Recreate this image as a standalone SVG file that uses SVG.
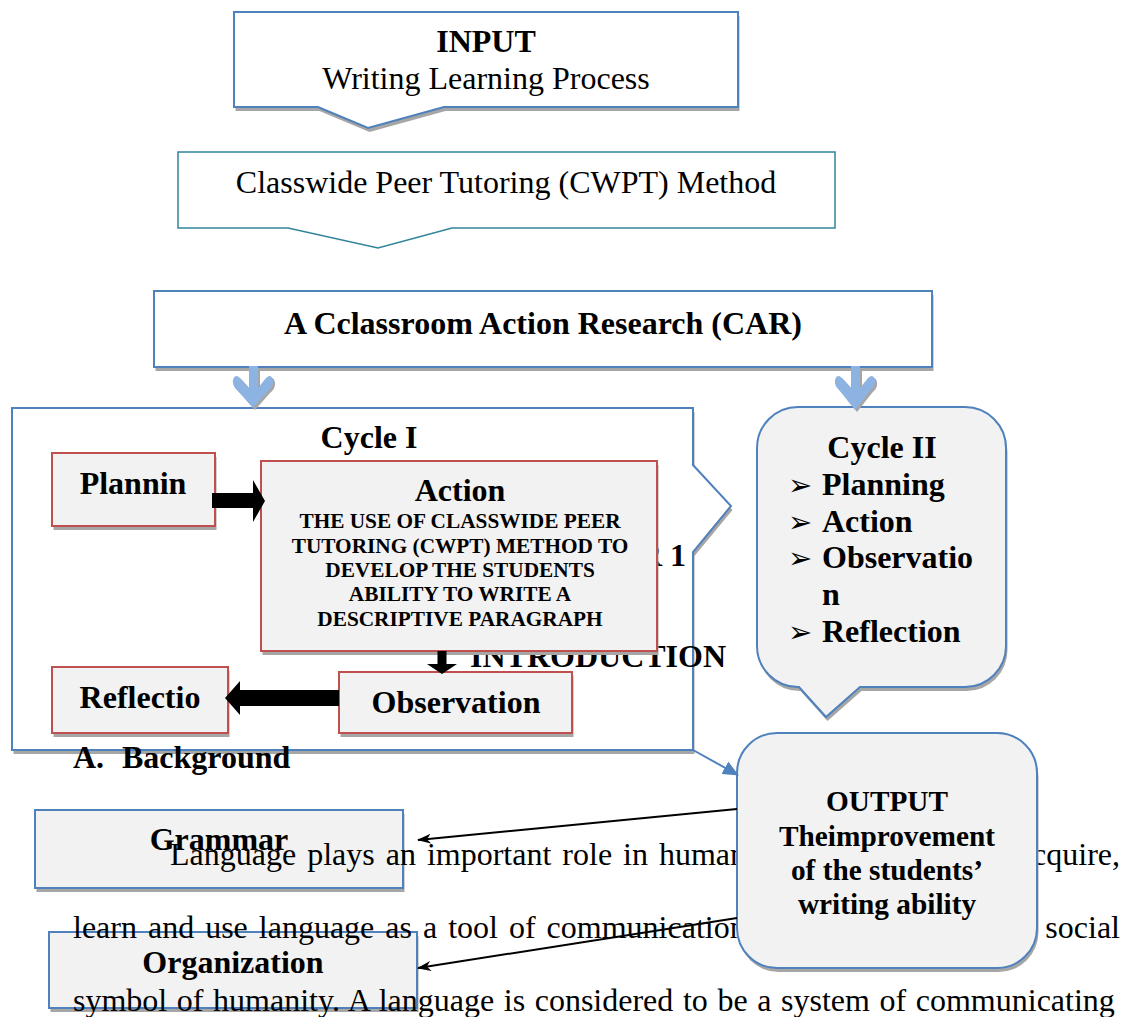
<svg xmlns="http://www.w3.org/2000/svg" width="1133" height="1017" viewBox="0 0 1133 1017">
<defs>
<style>
.t{font-family:"Liberation Serif","Times New Roman",serif;fill:#000}
.b{font-weight:bold}
.c{text-anchor:middle}
.bul{font-family:"DejaVu Sans",sans-serif;font-size:29px;fill:#000}
.blue{fill:#fff;stroke:#4F81BD;stroke-width:2}
.blueg{fill:#F2F2F2;stroke:#4F81BD;stroke-width:2}
.red{fill:#F2F2F2;stroke:#C0504D;stroke-width:2}
.teal{fill:#fff;stroke:#31849B;stroke-width:1.5}
.sh{fill:#A6A6A6}
.blk{fill:#000}
.barrow{fill:#8DB3E2}
.pline{stroke:#000;stroke-width:2;fill:none}
.bline{stroke:#4F81BD;stroke-width:2;fill:none}
</style>
<marker id="ah" viewBox="0 0 14 10" refX="13" refY="5" markerWidth="14" markerHeight="10" markerUnits="userSpaceOnUse" orient="auto">
<path d="M0,0 L14,5 L0,10 L4,5 Z" fill="#000"/>
</marker>
<marker id="ahb" viewBox="0 0 16 14" refX="15" refY="7" markerWidth="16" markerHeight="14" markerUnits="userSpaceOnUse" orient="auto">
<path d="M0,0 L16,7 L0,14 Z" fill="#4F81BD"/>
</marker>
</defs>

<g id="input">
<path class="sh" transform="translate(1.5,4)" d="M234,12 H738 V107 H444 L368,128 L318,107 H234 Z"/>
<path class="blue" d="M234,12 H738 V107 H444 L368,128 L318,107 H234 Z"/>
<text class="t b c" x="486" y="52" font-size="32">INPUT</text>
<text class="t c" x="486" y="89" font-size="32">Writing Learning Process</text>
</g>

<g id="cwpt">
<path class="teal" d="M178,152 H835 V228 H452 L378,248 L288,228 H178 Z"/>
<text class="t c" x="506" y="193" font-size="32">Classwide Peer Tutoring (CWPT) Method</text>
</g>

<g id="car">
<rect class="sh" x="155.5" y="295" width="778" height="76"/>
<rect class="blue" x="154" y="291" width="778" height="76"/>
<text class="t b c" x="543" y="334" font-size="32">A Cclassroom Action Research (CAR)</text>
</g>

<g id="cycle1">
<path class="sh" transform="translate(1.5,4)" d="M12,408 H693 V465 L731,506 L693,552 V750 H12 Z"/>
<path class="blue" d="M12,408 H693 V465 L731,506 L693,552 V750 H12 Z"/>
<text class="t b c" x="369" y="448" font-size="32">Cycle I</text>
</g>

<g id="page-text-behind">
<text class="t b" x="686" y="566" font-size="32" text-anchor="end">R 1</text>
<text class="t b" x="470" y="667" font-size="32">INTRODUCTION</text>
<text class="t b" x="73" y="768" font-size="32">A.</text>
<text class="t b" x="122" y="768" font-size="32">Background</text>
</g>

<g id="planning">
<rect class="sh" x="53.5" y="457" width="163" height="73"/>
<rect class="red" x="52" y="453" width="163" height="73"/>
<text class="t b c" x="133" y="494" font-size="32">Plannin</text>
</g>

<g id="action">
<rect class="sh" x="262.5" y="465" width="396" height="190"/>
<rect class="red" x="261" y="461" width="396" height="190"/>
<text class="t b c" x="460" y="501" font-size="32">Action</text>
<text class="t b c" x="460" y="528" font-size="21.3">THE USE OF CLASSWIDE PEER</text>
<text class="t b c" x="460" y="553" font-size="21.3">TUTORING (CWPT) METHOD TO</text>
<text class="t b c" x="460" y="577" font-size="21.3">DEVELOP THE STUDENTS</text>
<text class="t b c" x="460" y="601" font-size="21.3">ABILITY TO WRITE A</text>
<text class="t b c" x="460" y="626" font-size="21.3">DESCRIPTIVE PARAGRAPH</text>
</g>

<g id="observation">
<rect class="sh" x="340.5" y="676" width="233" height="61"/>
<rect class="red" x="339" y="672" width="233" height="61"/>
<text class="t b c" x="456" y="713" font-size="32">Observation</text>
</g>

<g id="reflection">
<rect class="sh" x="53.5" y="671" width="176" height="66"/>
<rect class="red" x="52" y="667" width="176" height="66"/>
<text class="t b c" x="140" y="708" font-size="32">Reflectio</text>
</g>

<g id="cycle2">
<path class="sh" transform="translate(1.5,4)" d="M798,407 H965 A41,41 0 0 1 1006,448 V646 A41,41 0 0 1 965,687 H860 L826,717 L799,687 H798 A41,41 0 0 1 757,646 V448 A41,41 0 0 1 798,407 Z"/>
<path class="blueg" d="M798,407 H965 A41,41 0 0 1 1006,448 V646 A41,41 0 0 1 965,687 H860 L826,717 L799,687 H798 A41,41 0 0 1 757,646 V448 A41,41 0 0 1 798,407 Z"/>
<text class="t b c" x="882" y="458" font-size="32">Cycle II</text>
<text class="bul" x="788" y="495">➢</text>
<text class="t b" x="822" y="495" font-size="32">Planning</text>
<text class="bul" x="788" y="532">➢</text>
<text class="t b" x="822" y="532" font-size="32">Action</text>
<text class="bul" x="788" y="568">➢</text>
<text class="t b" x="822" y="568" font-size="32">Observatio</text>
<text class="t b" x="822" y="605" font-size="32">n</text>
<text class="bul" x="788" y="642">➢</text>
<text class="t b" x="822" y="642" font-size="32">Reflection</text>
</g>

<g id="grammar">
<rect class="sh" x="36.5" y="814" width="368" height="78"/>
<rect class="blueg" x="35" y="810" width="368" height="78"/>
<text class="t b c" x="219" y="850" font-size="32">Grammar</text>
</g>

<g id="organization">
<rect class="sh" x="50.5" y="936" width="368" height="76"/>
<rect class="blueg" x="49" y="932" width="368" height="76"/>
<text class="t b c" x="233" y="973" font-size="32">Organization</text>
</g>

<g id="page-text">
<text class="t" x="170" y="865" font-size="32" word-spacing="3">Language plays an important role in human</text>
<text class="t" x="1120" y="865" font-size="32" text-anchor="end">cquire,</text>
<text class="t" x="73" y="938" font-size="32" word-spacing="3">learn and use language as a tool of communication</text>
<text class="t" x="1120" y="938" font-size="32" text-anchor="end">social</text>
<text class="t" x="73" y="1011" font-size="32" word-spacing="1.6">symbol of humanity. A language is considered to be a system of communicating</text>
</g>

<g id="output">
<rect class="sh" x="738.5" y="737" width="300" height="235" rx="40"/>
<rect class="blueg" x="737" y="733" width="300" height="235" rx="40"/>
<text class="t b c" x="887" y="811" font-size="29.3">OUTPUT</text>
<text class="t b c" x="887" y="846" font-size="29.3">Theimprovement</text>
<text class="t b c" x="887" y="880" font-size="29.3">of the students’</text>
<text class="t b c" x="887" y="914" font-size="29.3">writing ability</text>
</g>

<g id="connectors">
<g transform="translate(2,2)" class="sh">
<path d="M249,366 H258 V388 L266,378 Q271,373 273,380 Q274,386 268,391 L253,408 L238,391 Q232,386 233,380 Q235,373 240,378 L249,388 Z"/>
<path d="M851,366 H860 V388 L868,378 Q873,373 875,380 Q876,386 870,391 L855,410 L840,391 Q834,386 835,380 Q837,373 842,378 L851,388 Z"/>
</g>
<path class="barrow" d="M249,366 H258 V388 L266,378 Q271,373 273,380 Q274,386 268,391 L253,408 L238,391 Q232,386 233,380 Q235,373 240,378 L249,388 Z"/>
<path class="barrow" d="M851,366 H860 V388 L868,378 Q873,373 875,380 Q876,386 870,391 L855,410 L840,391 Q834,386 835,380 Q837,373 842,378 L851,388 Z"/>
<polygon class="blk" points="212,493 253,493 253,480 265,501 253,522 253,508 212,508"/>
<polygon class="blk" points="437.5,651 446.5,651 446.5,664 457,664 442,674 427,664 437.5,664"/>
<polygon class="blk" points="339,690 240,690 240,681 225,698 240,715 240,706 339,706"/>
<line class="bline" x1="693" y1="750" x2="738" y2="775" marker-end="url(#ahb)"/>
<line class="pline" x1="737" y1="809" x2="418" y2="840" marker-end="url(#ah)"/>
<line class="pline" x1="737" y1="918" x2="418" y2="968" marker-end="url(#ah)"/>
</g>
</svg>
